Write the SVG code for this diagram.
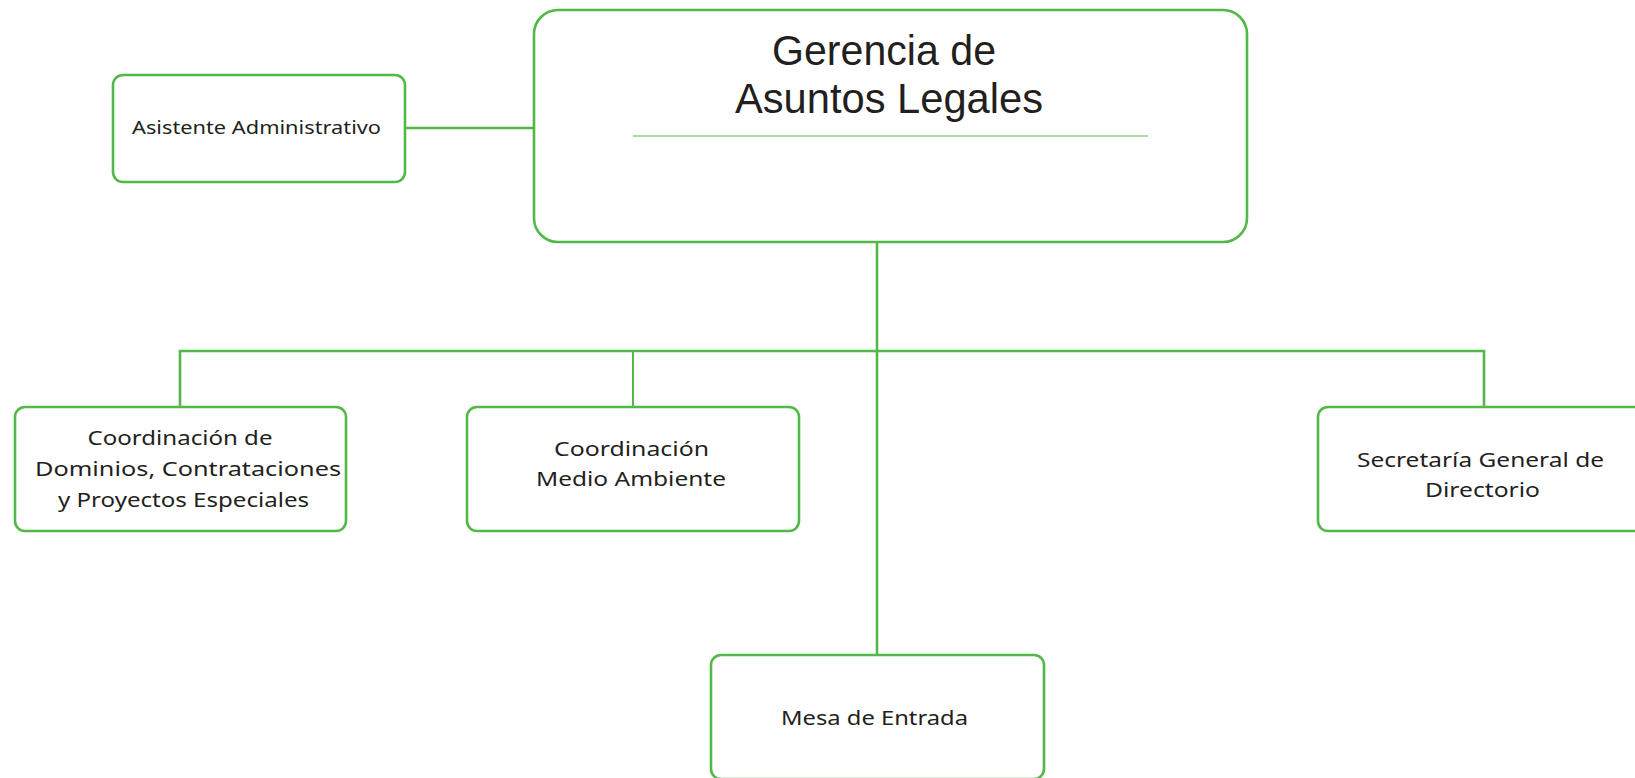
<svg xmlns="http://www.w3.org/2000/svg" width="1635" height="778" viewBox="0 0 1635 778">
<style>
.box{fill:#ffffff;stroke:#52b848;stroke-width:2.6}
.ln{fill:none;stroke:#52b848;stroke-width:2.6}
.t{font-family:"Noto Sans","DejaVu Sans",sans-serif;fill:#231f20;text-anchor:middle}
.s{font-size:20px}
.a{font-size:17.5px}
.h{font-family:"Liberation Sans",Arial,sans-serif;font-size:42px}
</style>
<rect width="1635" height="778" fill="#ffffff"/>
<g id="connectors">
<line class="ln" x1="405" y1="128" x2="534" y2="128"/>
<line class="ln" x1="877" y1="242" x2="877" y2="655"/>
<polyline class="ln" points="180,407 180,351 1484,351 1484,407"/>
<line class="ln" x1="633" y1="351" x2="633" y2="407" style="stroke-width:2"/>
</g>
<g id="gerencia">
<rect class="box" x="534" y="10" width="713" height="232" rx="24"/>
<text class="t h" x="884" y="65" textLength="224" lengthAdjust="spacingAndGlyphs">Gerencia de</text>
<text class="t h" x="889" y="113" textLength="308" lengthAdjust="spacingAndGlyphs">Asuntos Legales</text>
<line x1="633" y1="136" x2="1148" y2="136" stroke="#52b848" stroke-width="1.2"/>
</g>
<g id="asistente">
<rect class="box" x="113" y="75" width="292" height="107" rx="10"/>
<text class="t a" x="256.5" y="134" textLength="249" lengthAdjust="spacingAndGlyphs">Asistente Administrativo</text>
</g>
<g id="dominios">
<rect class="box" x="15" y="407" width="331" height="124" rx="10"/>
<text class="t s" x="180" y="445" textLength="185" lengthAdjust="spacingAndGlyphs">Coordinación de</text>
<text class="t s" x="188" y="476" textLength="306" lengthAdjust="spacingAndGlyphs">Dominios, Contrataciones</text>
<text class="t s" x="183.5" y="507" textLength="251" lengthAdjust="spacingAndGlyphs">y Proyectos Especiales</text>
</g>
<g id="medio-ambiente">
<rect class="box" x="467" y="407" width="332" height="124" rx="10"/>
<text class="t s" x="631.5" y="456" textLength="155" lengthAdjust="spacingAndGlyphs">Coordinación</text>
<text class="t s" x="631" y="486" textLength="190" lengthAdjust="spacingAndGlyphs">Medio Ambiente</text>
</g>
<g id="secretaria">
<rect class="box" x="1318" y="407" width="332" height="124" rx="10"/>
<text class="t s" x="1480.5" y="467" textLength="247" lengthAdjust="spacingAndGlyphs">Secretaría General de</text>
<text class="t s" x="1482.5" y="497" textLength="115" lengthAdjust="spacingAndGlyphs">Directorio</text>
</g>
<g id="mesa">
<rect class="box" x="711" y="655" width="333" height="124" rx="10"/>
<text class="t s" x="874.5" y="725" textLength="187" lengthAdjust="spacingAndGlyphs">Mesa de Entrada</text>
</g>
</svg>
